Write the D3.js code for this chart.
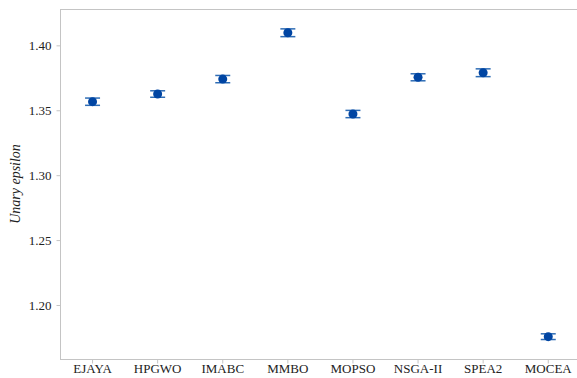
<!DOCTYPE html>
<html><head><meta charset="utf-8">
<script src="https://cdn.jsdelivr.net/npm/d3@7"></script>
<style>body{margin:0;background:#fff;} svg{display:block;} svg text{font-family:"Liberation Serif","Times New Roman",Times,serif;}</style>
</head><body>
<script>
const categories = ["EJAYA","HPGWO","IMABC","MMBO","MOPSO","NSGA-II","SPEA2","MOCEA"];
const means = [1.3566, 1.3625, 1.3740, 1.4097, 1.3471, 1.3754, 1.3789, 1.1756];
const errors = [0.0028, 0.0025, 0.0028, 0.0030, 0.0028, 0.0027, 0.0030, 0.0022];
const yTicks = [1.20, 1.25, 1.30, 1.35, 1.40];
const yLabel = "Unary epsilon";

(function(){
const W = 577, H = 378;
const mLeft = 60, mTop = 9, mBottom = 359;
const FONT = '"Liberation Serif","Times New Roman",Times,serif';
const svg = d3.select("body").append("svg").attr("width", W).attr("height", H);

const x = d3.scaleBand().domain(categories).range([mLeft, mLeft + 8*65.1]);
const y = d3.scaleLinear().domain([1.1584, 1.428]).range([mBottom, mTop]);

const gridColor = "#c4c4c4";
svg.append("line").attr("x1", mLeft).attr("x2", W).attr("y1", mTop+0.5).attr("y2", mTop+0.5).attr("stroke", gridColor);

const ya = svg.append("g").attr("transform", `translate(${mLeft+0.5},0)`)
  .call(d3.axisLeft(y).tickValues(yTicks).tickFormat(d3.format(".2f")).tickSize(4).tickSizeOuter(0));
const xa = svg.append("g").attr("transform", `translate(0,${mBottom+0.5})`)
  .call(d3.axisBottom(x).tickSize(4).tickSizeOuter(0));
[ya, xa].forEach(g => {
  g.attr("font-family", FONT);
  g.selectAll("path").attr("stroke", gridColor);
  g.selectAll("line").attr("stroke", gridColor);
  g.selectAll("text").attr("fill", "#222").attr("font-family", FONT).style("font-family", FONT).style("font-size", "13px");
});
ya.select("path.domain").attr("d", `M0,${mTop}V${mBottom}`);
xa.select("path.domain").attr("d", `M${mLeft},0H${W}`);
xa.selectAll("text").attr("y", 13.5).attr("dy", 0);
ya.selectAll("text").attr("dx", "-2");

svg.append("text").attr("transform", `translate(20,${(mTop+mBottom)/2}) rotate(-90)`)
  .attr("text-anchor", "middle").attr("font-family", FONT).style("font-family", FONT)
  .style("font-style", "italic").style("font-size", "14px").attr("fill", "#222").text(yLabel);

const data = categories.map((c,i) => ({c, m: means[i], e: errors[i]}));
const g = svg.append("g");
const barColor = "#2f6db5";
const cx = d => x(d.c) + x.bandwidth()/2;
const cap = 7.5;
data.forEach(d => {
  const px = cx(d);
  g.append("line").attr("x1", px).attr("x2", px).attr("y1", y(d.m+d.e)).attr("y2", y(d.m-d.e)).attr("stroke", barColor).attr("stroke-width", 1.3);
  [d.m+d.e, d.m-d.e].forEach(v => g.append("line").attr("x1", px-cap).attr("x2", px+cap).attr("y1", y(v)).attr("y2", y(v)).attr("stroke", barColor).attr("stroke-width", 1.5));
  g.append("circle").attr("cx", px).attr("cy", y(d.m)).attr("r", 4.5).attr("fill", "#0045a3");
});
})();
</script>
</body></html>
